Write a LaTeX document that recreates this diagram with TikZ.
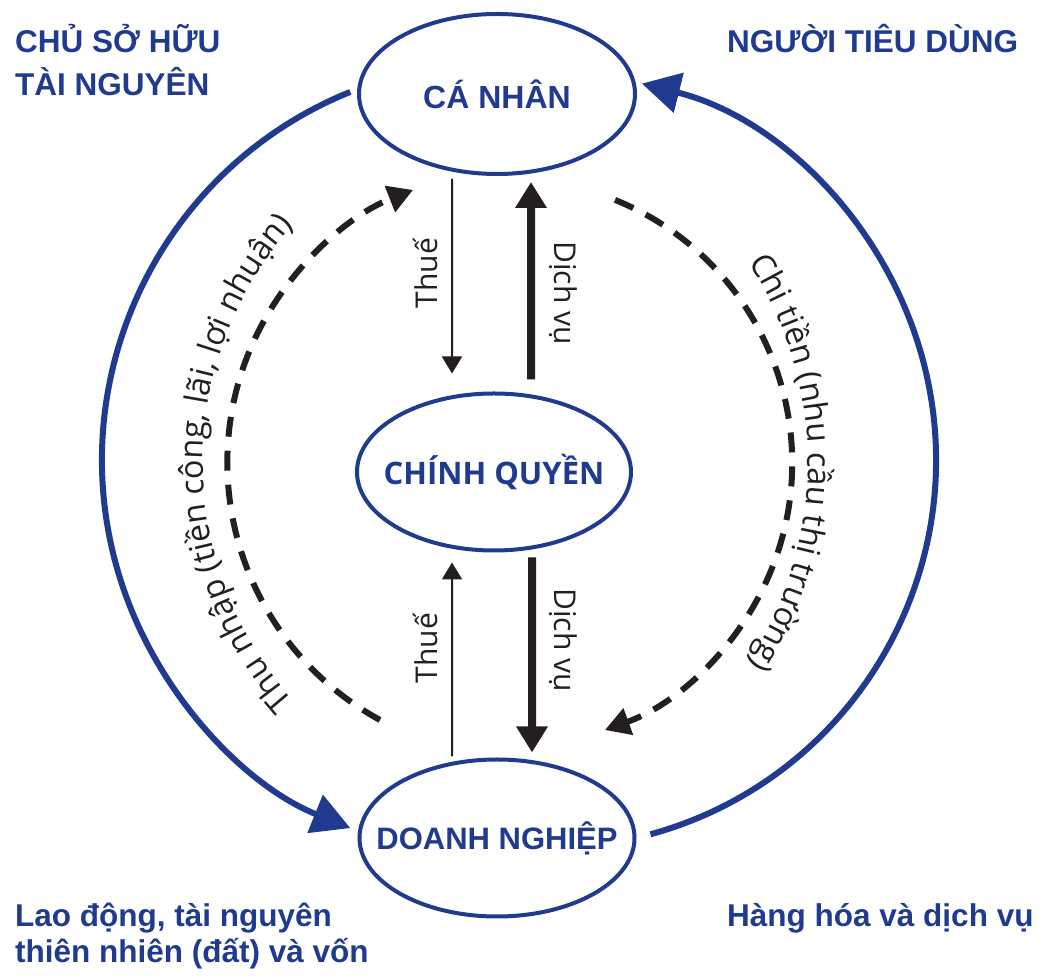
\documentclass[tikz,border=0pt]{standalone}
\usepackage{fontspec}
\setmainfont{Liberation Sans}
\newfontfamily\osans{Open Sans}
\newfontfamily\lsans{Liberation Sans}
\usetikzlibrary{arrows.meta,shapes.geometric,decorations.text}
\definecolor{navy}{RGB}{32,58,143}
\definecolor{ink}{RGB}{35,31,32}
\begin{document}
\begin{tikzpicture}[x=1bp,y=1bp,
 ell/.style={ellipse, draw=navy, line width=4bp, inner sep=0pt, text=navy, font=\lsans\bfseries\fontsize{32bp}{36bp}\selectfont},
 head/.style={text=navy, font=\lsans\bfseries\fontsize{31.5bp}{36bp}\selectfont, inner sep=0pt},
 lab/.style={text=ink, font=\osans\fontsize{30bp}{34bp}\selectfont, inner sep=0pt},
 thinarr/.style={draw=ink, line width=2bp, -{Triangle[length=17bp,width=20bp]}},
 thickarr/.style={draw=ink, line width=8bp, -{Triangle[length=26bp,width=30bp]}},
 bluearc/.style={draw=navy, line width=6bp, -{Triangle[length=38bp,width=40bp]}},
 dasharc/.style={draw=ink, line width=6bp, dash pattern=on 20bp off 14bp, -{Triangle[length=25bp,width=27bp]}},
 arctext/.style={decorate, decoration={text along path, text align=center, text color=ink, text={|\osans\fontsize{32.5bp}{32bp}\selectfont|#1}}}
]
\useasboundingbox (0,0) rectangle (1045,978);

% ellipses
\node[ell, minimum width=276bp, minimum height=160bp] (can) at (497,884) {\makebox[0pt]{CÁ NHÂN}};
\node[ell, minimum width=274bp, minimum height=157bp, font=\osans\bfseries\fontsize{31bp}{36bp}\selectfont] (gov) at (494,506) {\makebox[0pt]{CHÍNH QUYỀN}};
\node[ell, minimum width=275bp, minimum height=157bp, font=\lsans\bfseries\fontsize{31bp}{36bp}\selectfont] (dn) at (497,140) {\makebox[0pt]{DOANH NGHIỆP}};

% corner headings
\node[head, anchor=base west] (h1a) at (15,925) {CHỦ SỞ HỮU};
\node[head, anchor=base west] (h1b) at (15,882) {TÀI NGUYÊN};
\node[head, anchor=base west] (h2) at (727,925) {NGƯỜI TIÊU DÙNG};
\node[head, anchor=base west] (h3a) at (15,51) {Lao động, tài nguyên};
\node[head, anchor=base west] (h3b) at (15,15) {thiên nhiên (đất) và vốn};
\node[head, anchor=base west] (h4) at (727,51) {Hàng hóa và dịch vụ};

% vertical arrows
\draw[thinarr] ([xshift=-45bp,yshift=-3bp]can.south) -- ([xshift=-42bp,yshift=18bp]gov.north);
\draw[thickarr] ([xshift=37bp,yshift=12bp]gov.north) -- ([xshift=34bp,yshift=-6bp]can.south);
\draw[thinarr] ([xshift=-45bp,yshift=1bp]dn.north) -- ([xshift=-42bp,yshift=-10bp]gov.south);
\draw[thickarr] ([xshift=38bp,yshift=-5bp]gov.south) -- ([xshift=35bp,yshift=5bp]dn.north);

\node[lab, rotate=90] (t1) at (425,705) {Thuế};
\node[lab, rotate=-90] (d1) at (563,685) {Dịch vụ};
\node[lab, rotate=90] (t2) at (425,330) {Thuế};
\node[lab, rotate=-90] (d2) at (563,338) {Dịch vụ};

% big blue arcs
\coordinate (la) at (350.3,886.1);
\draw[bluearc] (la) arc[start angle=112, end angle=248, radius=397];
\coordinate (ra) at (650.4,143.7);
\draw[bluearc] (ra) arc[start angle=-74.7, end angle=76, radius=388];

% dashed arcs
\coordinate (ld) at (380.0,258.0);
\draw[dasharc] (ld) arc[start angle=241.35, end angle=111.5, radius=293.2];
\coordinate (rd) at (615.0,778.1);
\draw[dasharc] (rd) arc[start angle=67.9, end angle=-70.1, radius=284];

% curved labels
\path[arctext={Thu nhập (tiền công, lãi, lợi nhuận)}] (437.9,179.5) arc[start angle=250, end angle=110, radius=357];
\path[arctext={Chi tiền (nhu cầu thị trường)}] (624.0,833.7) arc[start angle=60, end angle=-60, radius=368];
\end{tikzpicture}
\end{document}
